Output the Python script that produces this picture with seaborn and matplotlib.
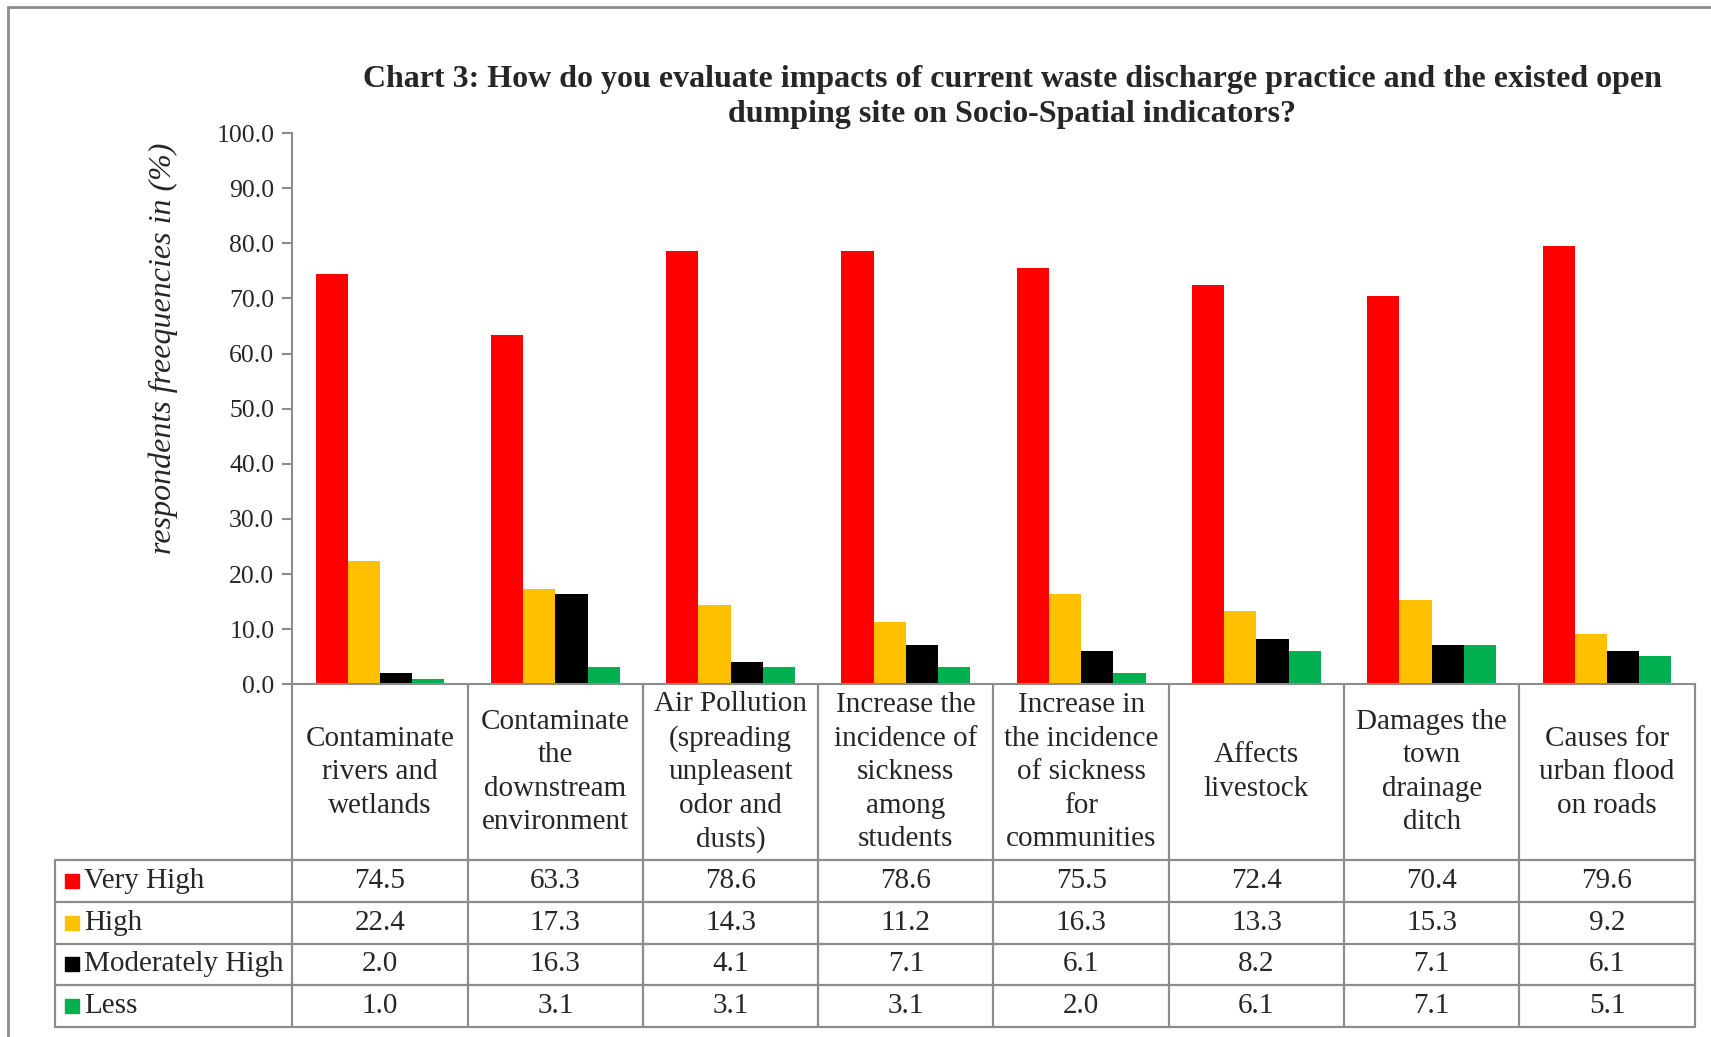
import numpy as np
import pandas as pd
import matplotlib
matplotlib.use("Agg")
import matplotlib.pyplot as plt
import matplotlib.transforms as mtransforms
from matplotlib.patches import Rectangle
import seaborn as sns

# data
indicators = [
    "Contaminate\nrivers and\nwetlands",
    "Contaminate\nthe\ndownstream\nenvironment",
    "Air Pollution\n(spreading\nunpleasent\nodor and\ndusts)",
    "Increase the\nincidence of\nsickness\namong\nstudents",
    "Increase in\nthe incidence\nof sickness\nfor\ncommunities",
    "Affects\nlivestock",
    "Damages the\ntown\ndrainage\nditch",
    "Causes for\nurban flood\non roads",
]
levels = ["Very High", "High", "Moderately High", "Less"]
very_high = [74.5, 63.3, 78.6, 78.6, 75.5, 72.4, 70.4, 79.6]
high = [22.4, 17.3, 14.3, 11.2, 16.3, 13.3, 15.3, 9.2]
moderately_high = [2.0, 16.3, 4.1, 7.1, 6.1, 8.2, 7.1, 6.1]
less = [1.0, 3.1, 3.1, 3.1, 2.0, 6.1, 7.1, 5.1]
colors = ["#FF0000", "#FFC000", "#000000", "#00B050"]

series = [very_high, high, moderately_high, less]
rows = []
for lvl, vals in zip(levels, series):
    for i, v in enumerate(vals):
        rows.append({"indicator": i, "level": lvl, "value": v})
df = pd.DataFrame(rows)

sns.set_style("white")
plt.rcParams["font.family"] = ["Liberation Serif", "DejaVu Serif"]
GREY = "#8c8c8c"

fig = plt.figure(figsize=(17.11, 10.37), dpi=100)
ax = fig.add_axes([0.1709, 0.3402, 0.8195, 0.5314])

sns.barplot(data=df, x="indicator", y="value", hue="level", hue_order=levels,
            palette=colors, width=0.735, saturation=1, linewidth=0,
            legend=False, ax=ax)

ax.set_xlim(-0.5, len(indicators) - 0.5)
ax.set_ylim(0, 100)
ax.set_yticks(np.arange(0, 101, 10))
ax.set_yticklabels([f"{t:.1f}" for t in np.arange(0, 101, 10)], fontsize=18.5)
ax.tick_params(axis="y", direction="out", length=7, width=1.5, color=GREY, pad=6, left=True)
ax.tick_params(axis="x", bottom=False, labelbottom=False)
ax.set_xlabel("")
ax.set_ylabel("respondents freequencies in (%)", fontsize=23, style="italic")
ax.yaxis.set_label_coords(-0.0815, 0.61)
for side in ["top", "right"]:
    ax.spines[side].set_visible(False)
for side in ["left", "bottom"]:
    ax.spines[side].set_color(GREY)
    ax.spines[side].set_linewidth(1.5)

# data table below the bars
trans = mtransforms.blended_transform_factory(ax.transData, ax.transAxes)
n = len(indicators)
header_bottom = -0.319
row_edges = [-0.319, -0.396, -0.471, -0.546, -0.622]
label_left = -1.857
line_kw = dict(color=GREY, lw=1.6, transform=trans, clip_on=False)

for k in range(n + 1):
    ax.plot([k - 0.5, k - 0.5], [0, row_edges[-1]], **line_kw)
ax.plot([label_left, label_left], [row_edges[0], row_edges[-1]], **line_kw)
for y in row_edges:
    ax.plot([label_left, n - 0.5], [y, y], **line_kw)

for i, lab in enumerate(indicators):
    ax.text(i, header_bottom / 2, lab, transform=trans, ha="center", va="center",
            fontsize=21, linespacing=1.37)

for r, (lvl, vals, c) in enumerate(zip(levels, series, colors)):
    yc = (row_edges[r] + row_edges[r + 1]) / 2
    ax.plot([-1.757], [yc], marker="s", ms=10.5, color=c, transform=trans, clip_on=False)
    ax.text(-1.69, yc, lvl, transform=trans, ha="left", va="center", fontsize=21)
    for i, v in enumerate(vals):
        ax.text(i, yc, f"{v:.1f}", transform=trans, ha="center", va="center", fontsize=21)

fig.text(0.5916, 0.9065,
         "Chart 3: How do you evaluate impacts of current waste discharge practice and the existed open\n"
         "dumping site on Socio-Spatial indicators?",
         ha="center", va="center", fontsize=23, fontweight="bold", linespacing=1.3)

# chart frame
fig.add_artist(Rectangle((8 / 1711, -0.05), 1.2, 1.05 - 6.7 / 1037,
                         transform=fig.transFigure, fill=False, edgecolor=GREY, lw=2))

fig.savefig("out.png", dpi=100)
